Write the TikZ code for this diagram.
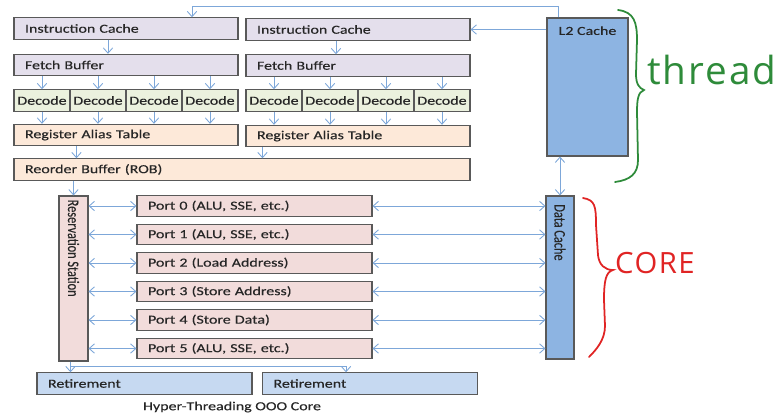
\documentclass[tikz,border=0pt]{standalone}
\usepackage{fontspec}
\setmainfont{Carlito}[FakeStretch=1.3, FakeBold=0.3]
\newfontfamily\upfont{Carlito}[FakeBold=0.3]
\newfontfamily\handfont{Open Sans}[LetterSpace=5]
\usepackage{graphicx}
\usepackage{tikz}
\usetikzlibrary{positioning,arrows.meta,calc}
\usepackage{xcolor}
\definecolor{lilac}{HTML}{E4DFEC}
\definecolor{sage}{HTML}{EBF1DE}
\definecolor{peach}{HTML}{FDE9D9}
\definecolor{rosy}{HTML}{F2DCDB}
\definecolor{cacheblue}{HTML}{8DB4E2}
\definecolor{retblue}{HTML}{C6D9F1}
\definecolor{wire}{HTML}{7DA7D9}
\definecolor{edgegray}{HTML}{595959}
\definecolor{ink}{HTML}{262626}
\definecolor{penred}{HTML}{E02424}
\definecolor{pengreen}{HTML}{2E8B3A}

\begin{document}
\begin{tikzpicture}[
    x=0.03cm, y=-0.03cm,
    unitbox/.style={draw=edgegray, line width=0.9pt, inner ysep=0pt, text=ink, font=\fontsize{10.5pt}{12pt}\selectfont, minimum height=0.64cm},
    leftbox/.style={unitbox, inner xsep=0.33cm, align=left},
    frontnode/.style={leftbox, fill=lilac, text width=6.06cm},
    decnode/.style={unitbox, fill=sage, inner xsep=0pt, minimum width=1.68cm},
    renamenode/.style={leftbox, fill=peach, text width=6.06cm},
    portnode/.style={leftbox, fill=rosy, text width=6.39cm, minimum height=0.62cm},
    retnode/.style={leftbox, fill=retblue, text width=5.79cm},
    cachenode/.style={unitbox, fill=cacheblue},
    sidetext/.style={rotate=-90, anchor=west, inner sep=0pt, text=ink, font=\upfont\fontsize{10.5pt}{12pt}\selectfont},
    flow/.style={draw=wire, line width=0.75pt, -{Straight Barb[length=4.5pt, width=8pt]}},
    biflow/.style={draw=wire, line width=0.75pt, {Straight Barb[length=4.5pt, width=8pt]}-{Straight Barb[length=4.5pt, width=8pt]}}
]
    \useasboundingbox (0,0) rectangle (777,418);

    % Front end, thread 1
    \node[frontnode] (ic1) at (126,28.5) {Instruction Cache};
    \node[frontnode] (fb1) at (126,65) {Fetch Buffer};
    \node[decnode] (d1a) at (42,100.5) {Decode};
    \node[decnode] (d1b) at (98,100.5) {Decode};
    \node[decnode] (d1c) at (154,100.5) {Decode};
    \node[decnode] (d1d) at (210,100.5) {Decode};
    \node[renamenode] (rat1) at (126,135) {Register Alias Table};

    % Front end, thread 2
    \node[frontnode] (ic2) at (358,29.5) {Instruction Cache};
    \node[frontnode] (fb2) at (358,65.5) {Fetch Buffer};
    \node[decnode] (d2a) at (274,100.5) {Decode};
    \node[decnode] (d2b) at (330,100.5) {Decode};
    \node[decnode] (d2c) at (386,100.5) {Decode};
    \node[decnode] (d2d) at (442,100.5) {Decode};
    \node[renamenode] (rat2) at (358,136) {Register Alias Table};

    \node[renamenode, text width=13.02cm] (rob) at (242,169.5) {Reorder Buffer (ROB)};

    % Caches
    \node[cachenode, minimum width=2.43cm, minimum height=4.14cm,
          label={[anchor=north, inner sep=0pt, yshift=-0.26cm, text=ink, font=\fontsize{10.5pt}{12pt}\selectfont]north:L2 Cache}] (l2) at (587.5,87) {};
    \node[cachenode, minimum width=0.84cm, minimum height=4.89cm,
          label={[sidetext, xshift=0.26cm]north:\scalebox{1}[1.3]{Data Cache}}] (dc) at (560,277.5) {};

    % Execution core
    \node[unitbox, fill=rosy, minimum width=0.87cm, minimum height=4.95cm,
          label={[sidetext, xshift=0.12cm]north:\scalebox{1}[1.3]{Reservation Station}}] (rs) at (73.5,278.5) {};
    \node[portnode] (p0) at (254.5,206) {Port 0 (ALU, SSE, etc.)};
    \node[portnode] (p1) at (254.5,234.5) {Port 1 (ALU, SSE, etc.)};
    \node[portnode] (p2) at (254.5,263) {Port 2 (Load Address)};
    \node[portnode] (p3) at (254.5,291.5) {Port 3 (Store Address)};
    \node[portnode] (p4) at (254.5,320) {Port 4 (Store Data)};
    \node[portnode] (p5) at (254.5,348.5) {Port 5 (ALU, SSE, etc.)};

    \node[retnode] (ret1) at (144.5,383.5) {Retirement};
    \node[retnode] (ret2) at (370,383.5) {Retirement};
    \node[text=ink, font=\fontsize{10.5pt}{12pt}\selectfont] (caption) at (232,407) {Hyper-Threading OOO Core};

    % Front end wiring
    \draw[flow] ([xshift=0.36cm]l2.north west) -- ++(0,-11) -| ([xshift=1.98cm]ic1.north);
    \draw[flow] (l2.west |- ic2.east) -- (ic2.east);
    \draw[flow] ($(ic1.south)+(-18,0)$) -- ($(fb1.north)+(-18,0)$);
    \draw[flow] ($(ic2.south)+(-22,0)$) -- ($(fb2.north)+(-22,0)$);
    \draw[flow] (fb1.south -| d1a) -- (d1a.north);
    \draw[flow] (fb1.south -| d1b) -- (d1b.north);
    \draw[flow] (fb1.south -| d1c) -- (d1c.north);
    \draw[flow] (fb1.south -| d1d) -- (d1d.north);
    \draw[flow] (fb2.south -| d2a) -- (d2a.north);
    \draw[flow] (fb2.south -| d2b) -- (d2b.north);
    \draw[flow] (fb2.south -| d2c) -- (d2c.north);
    \draw[flow] (fb2.south -| d2d) -- (d2d.north);
    \draw[flow] (d1a.south) -- (rat1.north -| d1a);
    \draw[flow] (d1b.south) -- (rat1.north -| d1b);
    \draw[flow] (d1c.south) -- (rat1.north -| d1c);
    \draw[flow] (d1d.south) -- (rat1.north -| d1d);
    \draw[flow] (d2a.south) -- (rat2.north -| d2a);
    \draw[flow] (d2b.south) -- (rat2.north -| d2b);
    \draw[flow] (d2c.south) -- (rat2.north -| d2c);
    \draw[flow] (d2d.south) -- (rat2.north -| d2d);
    \draw[flow] ($(rat1.south west)+(63,0)$) coordinate (r1out) -- (r1out |- rob.north);
    \draw[flow] ($(rat2.south west)+(17,0)$) coordinate (r2out) -- (r2out |- rob.north);
    \draw[flow] (rs.north |- rob.south) -- (rs.north);

    % Core wiring
    \draw[biflow] (l2.south -| dc.north) -- (dc.north);
    \draw[biflow] (rs.east |- p0.west) -- (p0.west);
    \draw[biflow] (rs.east |- p1.west) -- (p1.west);
    \draw[biflow] (rs.east |- p2.west) -- (p2.west);
    \draw[biflow] (rs.east |- p3.west) -- (p3.west);
    \draw[biflow] (rs.east |- p4.west) -- (p4.west);
    \draw[biflow] (rs.east |- p5.west) -- (p5.west);
    \draw[biflow] (p0.east) -- (dc.west |- p0.east);
    \draw[biflow] (p1.east) -- (dc.west |- p1.east);
    \draw[biflow] (p2.east) -- (dc.west |- p2.east);
    \draw[biflow] (p3.east) -- (dc.west |- p3.east);
    \draw[biflow] (p4.east) -- (dc.west |- p4.east);
    \draw[biflow] (p5.east) -- (dc.west |- p5.east);
    \draw[flow] ($(rs.south)+(-3,0)$) coordinate (rsout) -- (rsout |- ret1.north);
    \draw[flow] ($(rsout)+(0,5)$) -| ($(ret2.north)+(-24,0)$);

    % Hand-drawn braces
    \draw[pengreen, line width=1.5pt, line cap=round] (618,10) .. controls (634,12) and (637,22) .. (637,40) -- (636,74)
        .. controls (636,84) and (639,88) .. (644,90) .. controls (638,92) and (637,100) .. (637,112) -- (638,160)
        .. controls (638,174) and (630,180) .. (615,182);
    \node[anchor=base west, inner sep=0pt, text=pengreen, font=\handfont\fontsize{33pt}{33pt}\selectfont] (threadtag) at (647,84) {thread};

    \draw[penred, line width=1.5pt, line cap=round] (583,198) .. controls (595,200) and (596,206) .. (596,225) -- (598,255)
        .. controls (599,265) and (605,270) .. (613,270) .. controls (606,272) and (604,280) .. (604,300) -- (605,326)
        .. controls (605,340) and (596,350) .. (589,357);
    \node[anchor=base west, inner sep=0pt, text=penred, font=\handfont\fontsize{25pt}{25pt}\selectfont] (coretag) at (615,273) {CORE};
\end{tikzpicture}
\end{document}
